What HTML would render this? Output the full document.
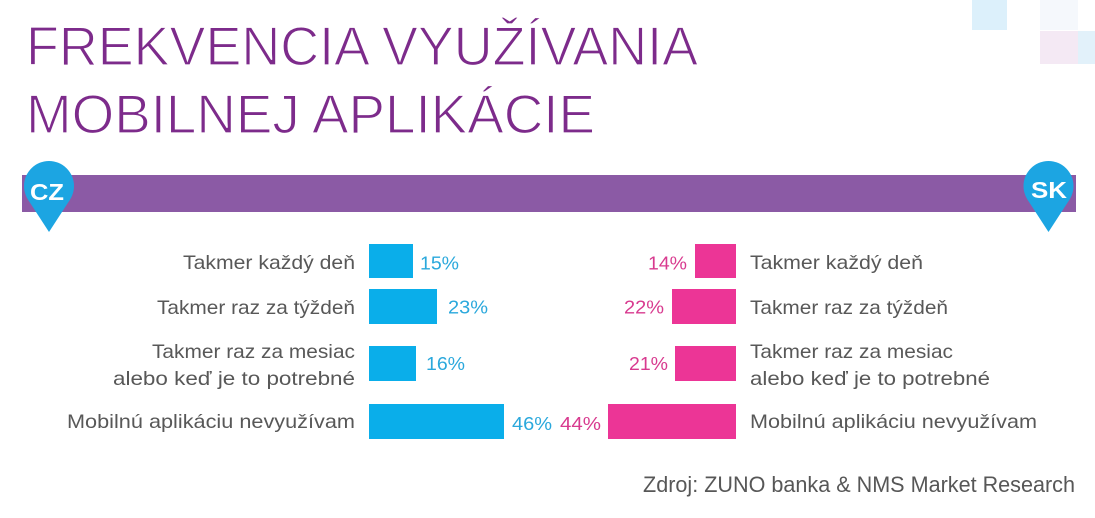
<!DOCTYPE html>
<html>
<head>
<meta charset="utf-8">
<style>
  html, body { margin:0; padding:0; background:#ffffff; }
  body { width:1095px; height:518px; overflow:hidden; }
  svg { display:block; }
  .lab { font-family:"Liberation Sans", sans-serif; font-size:19.5px; fill:#585858; }
  .pc { font-family:"Liberation Sans", sans-serif; font-size:18px; }
</style>
</head>
<body>
<svg width="1095" height="518" viewBox="0 0 1095 518" xmlns="http://www.w3.org/2000/svg">
  <rect x="0" y="0" width="1095" height="518" fill="#ffffff"/>
  <!-- decorative squares -->
  <rect x="972" y="0" width="35" height="30" fill="#dcf0fb"/>
  <rect x="1040" y="0" width="38" height="30" fill="#f5f8fc"/>
  <rect x="1040" y="31" width="38" height="33" fill="#f4e9f4"/>
  <rect x="1078" y="31" width="17" height="33" fill="#e2f1fa"/>

  <!-- title -->
  <text x="26" y="65" font-family="Liberation Sans, sans-serif" font-size="55" fill="#7d2b8b" stroke="#ffffff" stroke-width="1.3" textLength="672" lengthAdjust="spacingAndGlyphs">FREKVENCIA VYUŽÍVANIA</text>
  <text x="26" y="133" font-family="Liberation Sans, sans-serif" font-size="55" fill="#7d2b8b" stroke="#ffffff" stroke-width="1.3" textLength="569" lengthAdjust="spacingAndGlyphs">MOBILNEJ APLIKÁCIE</text>

  <!-- purple band -->
  <rect x="22" y="175" width="1054" height="37" fill="#8b5aa5"/>

  <!-- CZ pin -->
  <circle cx="49" cy="186" r="25" fill="#1ca5e2"/>
  <polygon points="28,199.6 70,199.6 49,232" fill="#1ca5e2"/>
  <text x="47" y="200" text-anchor="middle" font-family="Liberation Sans, sans-serif" font-weight="bold" font-size="23" fill="#ffffff" textLength="34" lengthAdjust="spacingAndGlyphs">CZ</text>

  <!-- SK pin -->
  <circle cx="1048.5" cy="186" r="25" fill="#1ca5e2"/>
  <polygon points="1027.5,199.6 1069.5,199.6 1048.5,232" fill="#1ca5e2"/>
  <text x="1049" y="198" text-anchor="middle" font-family="Liberation Sans, sans-serif" font-weight="bold" font-size="23" fill="#ffffff" textLength="36" lengthAdjust="spacingAndGlyphs">SK</text>

  <!-- left labels -->
  <text class="lab" x="355" y="269" text-anchor="end" textLength="172" lengthAdjust="spacingAndGlyphs">Takmer každý deň</text>
  <text class="lab" x="355" y="314" text-anchor="end" textLength="198" lengthAdjust="spacingAndGlyphs">Takmer raz za týždeň</text>
  <text class="lab" x="355" y="358" text-anchor="end" textLength="203" lengthAdjust="spacingAndGlyphs">Takmer raz za mesiac</text>
  <text class="lab" x="355" y="385" text-anchor="end" textLength="242" lengthAdjust="spacingAndGlyphs">alebo keď je to potrebné</text>
  <text class="lab" x="355" y="428" text-anchor="end" textLength="288" lengthAdjust="spacingAndGlyphs">Mobilnú aplikáciu nevyužívam</text>

  <!-- CZ bars -->
  <rect x="369" y="244" width="44" height="34" fill="#0aaeea"/>
  <rect x="369" y="289" width="68" height="35" fill="#0aaeea"/>
  <rect x="369" y="346" width="47" height="35" fill="#0aaeea"/>
  <rect x="369" y="404" width="135" height="35" fill="#0aaeea"/>

  <!-- CZ percents -->
  <text class="pc" x="420" y="269.5" fill="#2aa8dc" textLength="39" lengthAdjust="spacingAndGlyphs">15%</text>
  <text class="pc" x="448" y="313.5" fill="#2aa8dc" textLength="40" lengthAdjust="spacingAndGlyphs">23%</text>
  <text class="pc" x="426" y="370" fill="#2aa8dc" textLength="39" lengthAdjust="spacingAndGlyphs">16%</text>
  <text class="pc" x="512" y="430" fill="#2aa8dc" textLength="40" lengthAdjust="spacingAndGlyphs">46%</text>

  <!-- SK bars -->
  <rect x="695" y="244" width="41" height="34" fill="#ec3596"/>
  <rect x="672" y="289" width="64" height="35" fill="#ec3596"/>
  <rect x="675" y="346" width="61" height="35" fill="#ec3596"/>
  <rect x="608" y="404" width="128" height="35" fill="#ec3596"/>

  <!-- SK percents -->
  <text class="pc" x="687" y="269.5" text-anchor="end" fill="#d83a8f" textLength="39" lengthAdjust="spacingAndGlyphs">14%</text>
  <text class="pc" x="664" y="313.5" text-anchor="end" fill="#d83a8f" textLength="40" lengthAdjust="spacingAndGlyphs">22%</text>
  <text class="pc" x="668" y="370" text-anchor="end" fill="#d83a8f" textLength="39" lengthAdjust="spacingAndGlyphs">21%</text>
  <text class="pc" x="601" y="430" text-anchor="end" fill="#d83a8f" textLength="41" lengthAdjust="spacingAndGlyphs">44%</text>

  <!-- right labels -->
  <text class="lab" x="750" y="269" textLength="173" lengthAdjust="spacingAndGlyphs">Takmer každý deň</text>
  <text class="lab" x="750" y="314" textLength="198" lengthAdjust="spacingAndGlyphs">Takmer raz za týždeň</text>
  <text class="lab" x="750" y="358" textLength="203" lengthAdjust="spacingAndGlyphs">Takmer raz za mesiac</text>
  <text class="lab" x="750" y="385" textLength="240" lengthAdjust="spacingAndGlyphs">alebo keď je to potrebné</text>
  <text class="lab" x="750" y="428" textLength="287" lengthAdjust="spacingAndGlyphs">Mobilnú aplikáciu nevyužívam</text>

  <!-- source -->
  <text x="643" y="492" font-family="Liberation Sans, sans-serif" font-size="22.5" fill="#575757" textLength="432" lengthAdjust="spacingAndGlyphs">Zdroj: ZUNO banka &amp; NMS Market Research</text>
</svg>
</body>
</html>
